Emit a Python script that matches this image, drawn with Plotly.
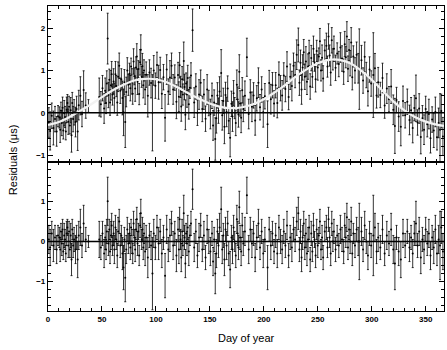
import plotly.graph_objects as go
from plotly.subplots import make_subplots

# ── observation days (day of year) ─────────────────────────────────────────
day = [
    0.8, 2.0, 3.5, 5.0, 6.5, 8.0, 9.3,
    10.5, 11.3, 12.0, 12.8, 13.5, 14.2, 15.0, 15.8, 16.5, 17.3, 18.0, 18.8, 19.5, 20.3, 21.0, 21.8, 22.5, 23.3, 24.2,
    25.5, 26.5, 27.5, 28.5, 30.0, 31.5, 33.0, 35.0, 37.5,
    47.5, 49.0, 50.5, 52.0, 53.0, 53.8, 54.5, 55.3, 56.0, 56.8, 57.5, 58.3, 59.0, 59.8,
    60.8, 61.5, 62.5, 63.3, 64.2, 65.0, 66.0, 67.0, 68.0, 69.0, 70.0, 70.8, 71.6, 72.5, 73.5, 74.5,
    75.5, 76.3, 77.0, 77.8, 78.5, 79.3, 80.0, 80.8, 81.5, 82.3, 83.0, 83.8, 84.5, 85.3, 86.0, 86.8, 87.5, 88.3, 89.0, 90.0, 91.0,
    92.5, 94.0, 95.5, 96.8, 98.0, 99.5, 101.0, 102.5, 104.0, 105.5, 107.0, 108.5, 110.0, 111.5, 113.0, 114.5, 116.0, 117.5, 119.0,
    120.5, 121.3, 122.0, 122.8, 123.5, 124.3, 125.0, 125.8, 126.5, 127.3, 128.0, 128.8, 129.5, 130.5, 131.5, 132.5, 134.0,
    135.5, 137.0, 138.5, 140.0, 141.5, 143.0, 144.5, 146.0, 147.5, 149.0, 150.5, 152.0, 153.0, 154.0, 155.0, 156.0, 157.0, 158.0, 159.0,
    160.5, 161.5, 162.5, 163.5, 164.5, 165.5, 166.5, 167.5, 168.8, 170.0, 171.0, 172.0, 173.0, 174.0, 175.0, 175.8, 176.5, 177.3, 178.0, 179.0, 180.0, 181.0, 182.5, 184.3,
    186.0, 187.5, 189.0, 190.5, 192.0, 193.5, 195.0, 196.5, 198.0, 199.5, 201.0, 203.5, 205.0, 206.5, 208.0, 209.5,
    211.0, 212.5, 214.0, 215.5, 217.0, 218.5, 220.0, 221.5, 223.0, 224.5, 226.0, 227.5, 229.0, 230.5, 232.0, 233.0, 234.0, 235.0, 236.0, 237.0, 238.0, 239.0, 240.0, 241.0, 242.0, 243.0,
    244.0, 245.0, 246.0, 247.0, 248.0, 249.0, 250.0, 251.0, 252.0, 253.0, 254.0, 255.0, 256.5, 258.0, 259.0, 260.0, 261.0, 262.0, 263.0, 264.0,
    265.0, 266.5, 268.0, 269.5, 271.0, 272.5, 274.0, 275.0, 276.0, 277.0, 278.0, 279.0, 280.0, 281.0, 282.0, 283.0, 284.5, 286.0, 287.5, 288.5,
    290.5, 292.0, 293.5, 295.0, 296.5, 298.0, 299.5, 301.5, 303.0, 304.5, 306.0, 308.0, 310.0, 312.0, 314.0, 316.0, 318.0, 320.0, 321.5, 323.0, 325.0, 327.0, 329.0, 331.0, 333.0, 335.0,
    336.5, 338.0, 339.5, 341.0, 342.5, 344.0, 345.5, 347.0, 348.5, 350.0, 351.5, 353.0, 354.5, 356.0, 357.5, 359.0, 360.5, 362.0, 363.3, 364.5, 366.0,
]

# ── residuals before the annual fit (top panel), µs ────────────────────────
pre_fit = [
    -0.23, -0.43, -0.07, -0.36, -0.15, -0.44, -0.08,
    -0.11, -0.4, 0.05, -0.24, 0.12, -0.42, -0.01, -0.1, -0.44, 0.07, 0.23, -0.21, 0.14, -0.3, 0.06, -0.53, 0.23, -0.15, 0.01,
    -0.22, 0.09, -0.44, 0.18, 0.4, -0.03, 0.54, 0.17, 0.16,
    0.37, 0.2, 0.58, 0.1, 0.52, 0.23, 0.69, 1.75, 0.42, 0.78, 0.24, 0.65, 0.91, 0.43,
    0.74, 0.35, 0.91, 0.63, 0.24, 0.85, 1.11, 0.52, 0.79, 0.35, 0.01, 0.72, -0.22, 0.49, 1.0, 0.66,
    0.92, 0.58, 1.09, 0.74, 0.45, 1.21, 0.86, 0.57, 1.07, 1.33, 0.73, 1.03, 0.44, 1.19, 1.49, 0.85, 1.1, 0.65, 1.0, 0.55, 0.9,
    0.4, 0.95, 0.7, 0.0, 1.0, 0.64, 1.13, 0.72, 1.01, 0.45, 0.84, -0.12, 1.02, 0.5, 0.83, 1.11, 0.55, 0.83, 0.26,
    0.89, 0.38, 1.12, 0.61, 0.15, 0.79, 0.43, 1.22, 0.61, -0.05, 0.69, 0.43, 0.82, 0.2, 0.59, 0.88, 1.95,
    0.24, 0.62, 0.0, 0.43, 0.71, 0.09, 0.43, -0.14, 0.55, 0.23, -0.03, 0.4, -0.3, 0.24, -0.62, -0.13, 0.41, 0.05, 0.5,
    0.94, -0.06, 0.28, -0.33, 0.42, 0.02, 0.57, -0.19, -0.59, 0.21, -0.09, 0.46, 0.11, -0.24, 0.66, 0.31, -0.04, 0.97, 0.22, -0.12, 0.53, 0.09, 0.4, 1.31,
    -0.03, 0.48, 0.14, 0.41, -0.18, 0.34, 0.71, 0.13, 0.55, 0.01, 0.39, -0.27, 0.7, 0.32, 0.65, 0.22,
    0.65, 0.23, 0.9, 0.58, 0.41, 0.88, 0.56, 1.09, 0.37, 0.85, 0.63, 1.11, 0.89, 1.37, 1.6, 0.71, 1.18, 0.55, 1.07, 1.43, 0.85, 1.21, 0.73, 1.09, 1.41, 0.62,
    1.29, 0.85, 1.51, 1.18, 0.79, 1.46, 1.07, 1.33, 1.69, 1.0, 1.3, 0.81, 1.47, 1.58, 1.09, 1.8, 1.35, 0.95, 1.71, 1.26,
    1.51, 1.06, 1.4, 1.15, 1.54, 1.28, 0.97, 1.62, 1.31, 1.8, 1.04, 1.48, 1.17, 1.66, 0.84, 1.33, 1.0, 1.37, 1.05, 1.03,
    1.24, 0.76, 1.32, 0.89, 0.51, 1.02, 0.69, 0.89, 1.05, 0.41, 0.72, 0.42, 0.82, 0.17, 0.57, 0.32, 0.62, 0.07, -0.31, 0.3, -0.09, -0.33, 0.28, -0.06, 0.26, -0.17,
    0.06, -0.36, 0.11, 0.34, -0.23, 0.1, -0.57, -0.13, -0.4, 0.09, -0.27, -0.03, -0.6, -0.16, -0.42, 0.02, -0.58, -0.24, -0.4, 0.04, -0.56,
]

# ── residuals after the annual fit (bottom panel), µs ──────────────────────
post_fit = [
    0.05, -0.15, 0.2, -0.1, 0.1, -0.2, 0.15,
    0.1, -0.2, 0.25, -0.05, 0.3, -0.25, 0.15, 0.05, -0.3, 0.2, 0.35, -0.1, 0.25, -0.2, 0.15, -0.45, 0.3, -0.1, 0.05,
    -0.2, 0.1, -0.45, 0.15, 0.35, -0.1, 0.45, 0.05, 0.0,
    0.05, -0.15, 0.2, -0.3, 0.1, -0.2, 0.25, 1.0, -0.05, 0.3, -0.25, 0.15, 0.4, -0.1,
    0.2, -0.2, 0.35, 0.05, -0.35, 0.25, 0.5, -0.1, 0.15, -0.3, -0.65, 0.05, -0.9, -0.2, 0.3, -0.05,
    0.2, -0.15, 0.35, 0.0, -0.3, 0.45, 0.1, -0.2, 0.3, 0.55, -0.05, 0.25, -0.35, 0.4, 0.7, 0.05, 0.3, -0.15, 0.2, -0.25, 0.1,
    -0.4, 0.15, -0.1, -0.8, 0.2, -0.15, 0.35, -0.05, 0.25, -0.3, 0.1, -0.85, 0.3, -0.2, 0.15, 0.45, -0.1, 0.2, -0.35,
    0.3, -0.2, 0.55, 0.05, -0.4, 0.25, -0.1, 0.7, 0.1, -0.55, 0.2, -0.05, 0.35, -0.25, 0.15, 0.45, 1.3,
    -0.15, 0.25, -0.35, 0.1, 0.4, -0.2, 0.15, -0.4, 0.3, 0.0, -0.25, 0.2, -0.5, 0.05, -0.8, -0.3, 0.25, -0.1, 0.35,
    0.8, -0.2, 0.15, -0.45, 0.3, -0.1, 0.45, -0.3, -0.7, 0.1, -0.2, 0.35, 0.0, -0.35, 0.55, 0.2, -0.15, 0.85, 0.1, -0.25, 0.4, -0.05, 0.25, 1.15,
    -0.2, 0.3, -0.05, 0.2, -0.4, 0.1, 0.45, -0.15, 0.25, -0.3, 0.05, -0.65, 0.3, -0.1, 0.2, -0.25,
    0.15, -0.3, 0.35, 0.0, -0.2, 0.25, -0.1, 0.4, -0.35, 0.1, -0.15, 0.3, 0.05, 0.5, 0.7, -0.2, 0.25, -0.4, 0.1, 0.45, -0.15, 0.2, -0.3, 0.05, 0.35, -0.45,
    0.2, -0.25, 0.4, 0.05, -0.35, 0.3, -0.1, 0.15, 0.5, -0.2, 0.1, -0.4, 0.25, 0.35, -0.15, 0.55, 0.1, -0.3, 0.45, 0.0,
    0.25, -0.2, 0.15, -0.1, 0.3, 0.05, -0.25, 0.4, 0.1, 0.6, -0.15, 0.3, 0.0, 0.5, -0.3, 0.2, -0.1, 0.3, 0.0, 0.0,
    0.25, -0.2, 0.4, 0.0, -0.35, 0.2, -0.1, 0.15, 0.35, -0.25, 0.1, -0.15, 0.3, -0.3, 0.15, -0.05, 0.3, -0.2, -0.55, 0.1, -0.25, -0.45, 0.2, -0.1, 0.25, -0.15,
    0.1, -0.3, 0.2, 0.45, -0.1, 0.25, -0.4, 0.05, -0.2, 0.3, -0.05, 0.2, -0.35, 0.1, -0.15, 0.3, -0.3, 0.05, -0.1, 0.35, -0.25,
]

# ── 1-sigma uncertainty of each point, µs ──────────────────────────────────
err = [
    0.35, 0.45, 0.3, 0.4, 0.3, 0.35, 0.25,
    0.25, 0.3, 0.2, 0.3, 0.25, 0.2, 0.3, 0.25, 0.2, 0.3, 0.2, 0.3, 0.25, 0.2, 0.3, 0.4, 0.25, 0.3, 0.3,
    0.35, 0.3, 0.45, 0.35, 0.45, 0.3, 0.45, 0.3, 0.15,
    0.45, 0.3, 0.3, 0.35, 0.3, 0.25, 0.3, 0.6, 0.3, 0.25, 0.3, 0.35, 0.3, 0.25,
    0.3, 0.35, 0.3, 0.25, 0.3, 0.35, 0.3, 0.3, 0.25, 0.4, 0.55, 0.3, 0.6, 0.35, 0.3, 0.25,
    0.25, 0.3, 0.2, 0.3, 0.25, 0.3, 0.2, 0.3, 0.25, 0.3, 0.3, 0.2, 0.25, 0.3, 0.35, 0.25, 0.3, 0.3, 0.25, 0.35, 0.3,
    0.5, 0.3, 0.35, 0.9, 0.35, 0.3, 0.3, 0.4, 0.3, 0.35, 0.3, 0.55, 0.35, 0.3, 0.4, 0.3, 0.35, 0.3, 0.4,
    0.3, 0.35, 0.3, 0.25, 0.35, 0.3, 0.25, 0.45, 0.3, 0.35, 0.25, 0.3, 0.3, 0.35, 0.25, 0.3, 0.5,
    0.35, 0.3, 0.3, 0.35, 0.3, 0.3, 0.35, 0.3, 0.35, 0.3, 0.35, 0.3, 0.35, 0.3, 0.5, 0.35, 0.3, 0.3, 0.35,
    0.55, 0.35, 0.3, 0.4, 0.3, 0.35, 0.3, 0.3, 0.45, 0.3, 0.35, 0.3, 0.25, 0.3, 0.35, 0.3, 0.3, 0.4, 0.3, 0.35, 0.3, 0.3, 0.35, 0.45,
    0.35, 0.3, 0.35, 0.3, 0.35, 0.3, 0.35, 0.3, 0.3, 0.35, 0.3, 0.55, 0.3, 0.35, 0.3, 0.3,
    0.3, 0.35, 0.3, 0.3, 0.35, 0.3, 0.3, 0.35, 0.3, 0.3, 0.35, 0.3, 0.3, 0.35, 0.4, 0.3, 0.3, 0.35, 0.3, 0.3, 0.3, 0.35, 0.3, 0.3, 0.3, 0.3,
    0.3, 0.25, 0.3, 0.2, 0.3, 0.25, 0.3, 0.2, 0.3, 0.25, 0.3, 0.3, 0.25, 0.3, 0.25, 0.3, 0.25, 0.3, 0.3, 0.25,
    0.3, 0.3, 0.25, 0.3, 0.35, 0.3, 0.3, 0.3, 0.25, 0.35, 0.3, 0.25, 0.3, 0.35, 0.3, 0.25, 0.3, 0.3, 0.35, 0.95,
    0.35, 0.3, 0.35, 0.3, 0.35, 0.3, 0.3, 1.0, 0.35, 0.3, 0.35, 0.3, 0.35, 0.3, 0.35, 0.3, 0.4, 0.35, 0.65, 0.3, 0.35, 0.45, 0.35, 0.3, 0.3, 0.35,
    0.3, 0.35, 0.3, 0.55, 0.3, 0.35, 0.4, 0.3, 0.35, 0.3, 0.3, 0.35, 0.35, 0.3, 0.4, 0.35, 0.3, 0.35, 0.85, 0.4, 0.45,
]

# ── fitted annual term (white curve, top panel) ────────────────────────────
fit_day = [0, 10, 20, 30, 40, 50, 60, 70, 80, 90, 100, 110, 120, 130, 140, 150, 160, 170, 180,
           190, 200, 210, 220, 230, 240, 250, 260, 270, 280, 290, 300, 310, 320, 330, 340, 350, 360, 367]
fit_val = [-0.29, -0.22, -0.1, 0.05, 0.2, 0.37, 0.53, 0.66, 0.76, 0.8, 0.79, 0.72, 0.6, 0.46, 0.33, 0.22, 0.14, 0.11, 0.13,
           0.2, 0.32, 0.48, 0.66, 0.86, 1.03, 1.17, 1.25, 1.25, 1.17, 1.0, 0.78, 0.52, 0.27, 0.06, -0.1, -0.21, -0.28, -0.31]

assert len(day) == len(pre_fit) == len(post_fit) == len(err)

FONT = "Liberation Sans, Arial, sans-serif"
BAR = "rgba(0,0,0,0.8)"

fig = make_subplots(rows=2, cols=1, shared_xaxes=True, vertical_spacing=0,
                    row_heights=[0.5125, 0.4875])

for row, vals in ((1, pre_fit), (2, post_fit)):
    fig.add_trace(go.Scatter(
        x=day, y=vals, mode="markers",
        marker=dict(size=2, color="black"),
        error_y=dict(type="data", array=err, color=BAR, thickness=1, width=1),
        showlegend=False, hoverinfo="skip",
    ), row=row, col=1)

fig.add_trace(go.Scatter(
    x=fit_day, y=fit_val, mode="lines",
    line=dict(color="#f2f2f2", width=2.2, shape="spline"),
    showlegend=False, hoverinfo="skip",
), row=1, col=1)

ax_common = dict(
    showline=True, mirror="ticks", linecolor="black", linewidth=1.2,
    ticks="inside", ticklen=5, tickwidth=1, tickcolor="black",
    showgrid=False, zeroline=False,
    tickfont=dict(family=FONT, size=8, color="black", weight="bold"),
)

fig.update_xaxes(range=[0, 367], dtick=50, tick0=0,
                 minor=dict(ticks="inside", ticklen=3, dtick=10, tickcolor="black"),
                 **ax_common)
fig.update_xaxes(showticklabels=False, row=1, col=1)
fig.update_yaxes(dtick=1, tick0=0,
                 minor=dict(ticks="inside", ticklen=3, dtick=0.2, tickcolor="black"),
                 **ax_common)
fig.update_yaxes(range=[-1.17, 2.52], row=1, col=1)
fig.update_yaxes(range=[-1.73, 1.97], row=2, col=1)

# zero reference lines drawn over the data
for xr, yr in (("x domain", "y"), ("x2 domain", "y2")):
    fig.add_shape(type="line", xref=xr, yref=yr, x0=0, x1=1, y0=0, y1=0,
                  line=dict(color="black", width=1.5), layer="above")

fig.add_annotation(text="Residuals (μs)", textangle=-90, xref="paper", yref="paper",
                   x=-0.088, y=0.495, xanchor="center", yanchor="middle", showarrow=False,
                   font=dict(family=FONT, size=11, color="black"))
fig.add_annotation(text="Day of year", xref="paper", yref="paper",
                   x=0.5, y=-0.088, xanchor="center", yanchor="middle", showarrow=False,
                   font=dict(family=FONT, size=11, color="black"))

fig.update_layout(
    width=447, height=350,
    margin=dict(l=48, r=3, t=6, b=39),
    paper_bgcolor="white", plot_bgcolor="white",
)

fig.write_html("out.html", config={"displayModeBar": False},
               post_script="document.body.style.margin='0';document.body.style.overflow='hidden';")
